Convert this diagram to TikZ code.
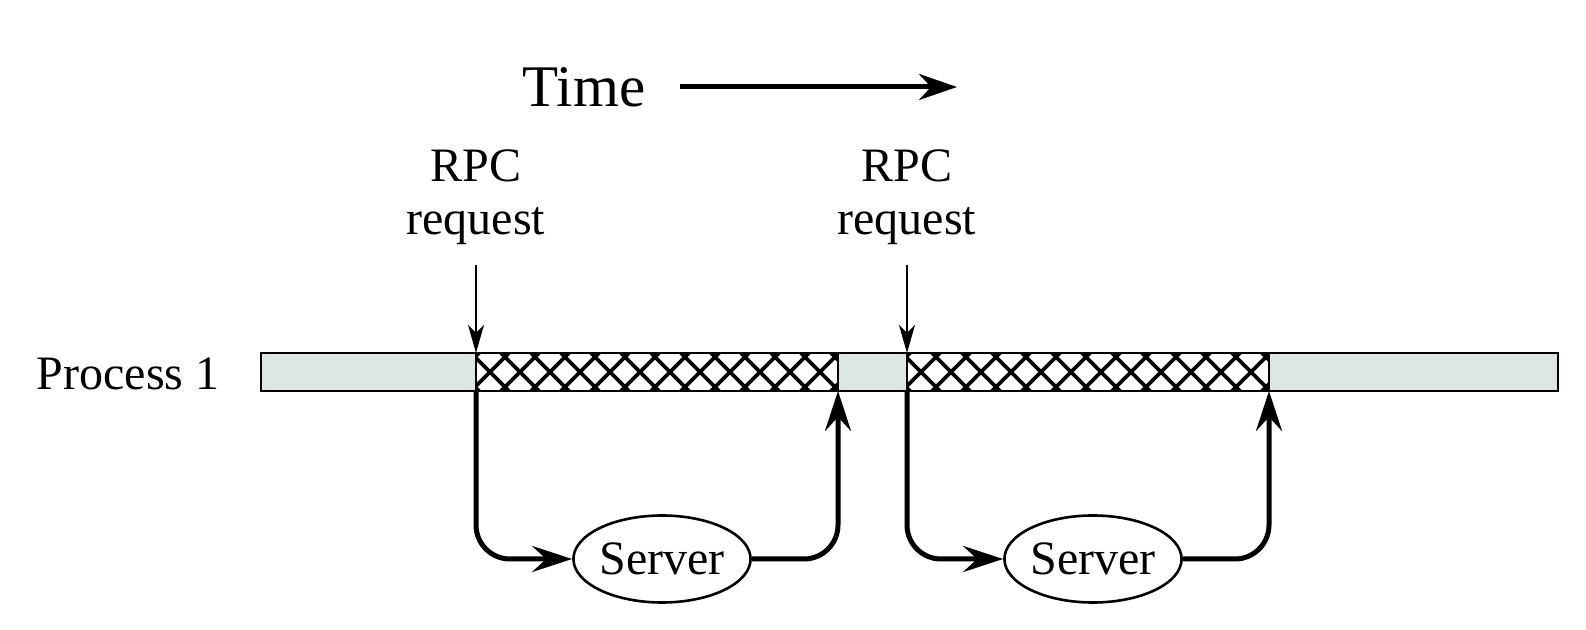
\documentclass[tikz,border=0pt]{standalone}
\usepackage{fontspec}
\setmainfont{Liberation Serif}
\usetikzlibrary{arrows.meta,shapes.geometric}
\definecolor{barfill}{HTML}{DDE6E2}
\begin{document}
\begin{tikzpicture}[x=0.5pt,y=-0.5pt,
  lbl/.style={font=\fontsize{24}{26.5}\selectfont, inner sep=0, align=center},
  srv/.style={ellipse, draw, line width=1.3pt, minimum width=88pt, minimum height=43.5pt, inner sep=0, font=\fontsize{24}{28}\selectfont},
  thickarrow/.style={line width=2.5pt, rounded corners=17pt, -{Stealth[length=20pt,width=13pt,inset=7pt]}},
  thinarrow/.style={line width=0.9pt, -{Stealth[length=14pt,width=8pt,inset=4pt]}},
  hatchline/.style={line width=1.8pt},
  barline/.style={line width=1.3pt},
]
\useasboundingbox (0,0) rectangle (1586,630);

% Time
\node[font=\fontsize{29.5}{32}\selectfont, inner sep=0, anchor=base] (time) at (584,107) {Time};
\coordinate (ta) at (680,87);
\coordinate (tb) at (957,87);
\draw[line width=2.5pt, -{Stealth[length=19pt,width=13pt,inset=6pt]}] (ta) -- (tb);

% process label
\node[lbl, anchor=base east] (p1) at (220,390) {Process 1};

% bar
\coordinate (bl) at (261,353);
\coordinate (br) at (1558,391);
\fill[barfill] (bl) rectangle (br);
\foreach \xs/\xe in {476/838, 907/1269}{
  \fill[white] (\xs,353) rectangle (\xe,391);
  \begin{scope}
    \clip (\xs,353) rectangle (\xe,391);
    \foreach \k in {-1,...,13}{
      \pgfmathsetmacro\c{\xs+14+30*\k}
      \draw[hatchline] (\c-25,347) -- (\c+25,397);
      \draw[hatchline] (\c-25,397) -- (\c+25,347);
    }
  \end{scope}
  \draw[barline] (\xs,353) -- (\xs,391);
  \draw[barline] (\xe,353) -- (\xe,391);
}
\draw[barline] (bl) rectangle (br);

% hatch boundary coordinates
\coordinate (h1t) at (476,353);
\coordinate (h1b) at (476,391);
\coordinate (e1b) at (838,391);
\coordinate (h2t) at (907,353);
\coordinate (h2b) at (907,391);
\coordinate (e2b) at (1269,391);

% RPC requests
\node[lbl, text depth=0pt, anchor=south] (r1) at (476,235) {RPC\\request};
\node[lbl, text depth=0pt, anchor=south] (r2) at (907,235) {RPC\\request};
\coordinate (r1a) at (476,265);
\coordinate (r2a) at (907,265);
\draw[thinarrow] (r1a) -- (h1t);
\draw[thinarrow] (r2a) -- (h2t);

% servers
\node[srv] (s1) at (662,559) {Server};
\node[srv] (s2) at (1093,559) {Server};

\draw[thickarrow] (h1b) -- (h1b |- s1.west) -- (s1.west);
\draw[thickarrow] (s1.east) -- (e1b |- s1.east) -- (e1b);
\draw[thickarrow] (h2b) -- (h2b |- s2.west) -- (s2.west);
\draw[thickarrow] (s2.east) -- (e2b |- s2.east) -- (e2b);
\end{tikzpicture}
\end{document}
